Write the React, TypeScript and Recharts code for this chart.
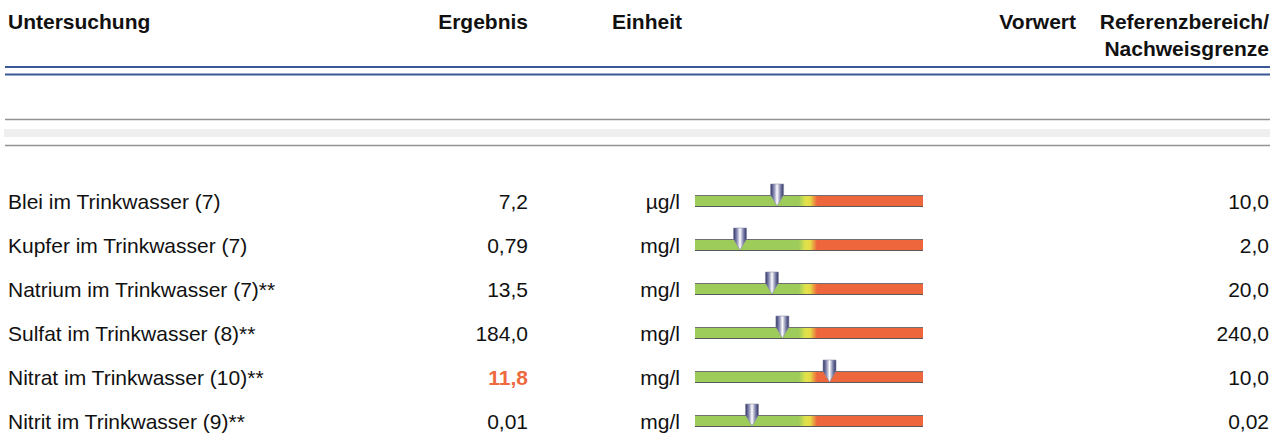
import { Bar, ComposedChart, Customized, Scatter, XAxis, YAxis } from "recharts";

const tests = [
  "Blei im Trinkwasser (7)",
  "Kupfer im Trinkwasser (7)",
  "Natrium im Trinkwasser (7)**",
  "Sulfat im Trinkwasser (8)**",
  "Nitrat im Trinkwasser (10)**",
  "Nitrit im Trinkwasser (9)**",
];
const results = [7.2, 0.79, 13.5, 184.0, 11.8, 0.01];
const resultLabels = ["7,2", "0,79", "13,5", "184,0", "11,8", "0,01"];
const units = ["µg/l", "mg/l", "mg/l", "mg/l", "mg/l", "mg/l"];
const references = [10.0, 2.0, 20.0, 240.0, 10.0, 0.02];
const referenceLabels = ["10,0", "2,0", "20,0", "240,0", "10,0", "0,02"];
const gaugeMax = 2;

const rows = tests.map((name, i) => ({
  name,
  ratio: results[i] / references[i],
  max: gaugeMax,
}));

const FONT = '"Liberation Sans", Arial, sans-serif';
const FS = 21;
const FS_HEAD = 21;
const ALERT = "#ee6a3e";

function RowTick(props: any) {
  const { y, payload } = props;
  const i = tests.indexOf(payload.value);
  const high = results[i] > references[i];
  const base = y + 7.5;
  return (
    <g fontFamily={FONT} fontSize={FS} fill="#111">
      <text x={8} y={base}>{tests[i]}</text>
      <text
        x={528}
        y={base}
        textAnchor="end"
        fill={high ? ALERT : "#111"}
        fontWeight={high ? "bold" : "normal"}
      >
        {resultLabels[i]}
      </text>
      <text x={680} y={base} textAnchor="end">{units[i]}</text>
      <text x={1269} y={base} textAnchor="end">{referenceLabels[i]}</text>
    </g>
  );
}

function Gauge(props: any) {
  const { x, y, width, height } = props;
  return (
    <g>
      <rect x={x} y={y} width={width} height={height} fill="url(#gauge)" />
      <line x1={x} x2={x + width} y1={y + 0.5} y2={y + 0.5} stroke="#6f6f6f" strokeWidth={1} />
      <line x1={x} x2={x + width} y1={y + height - 0.5} y2={y + height - 0.5} stroke="#5a5a5a" strokeWidth={1.2} />
    </g>
  );
}

function Pin(props: any) {
  const { cx, cy } = props;
  const w = 6.5;
  return (
    <path
      d={`M${cx - w},${cy - 17} L${cx + w},${cy - 17} L${cx + w},${cy - 6} L${cx},${cy + 5} L${cx - w},${cy - 6} Z`}
      fill="url(#pin)"
      stroke="#8c8ea8"
      strokeWidth={0.6}
    />
  );
}

function Header() {
  return (
    <g fontFamily={FONT} fontSize={FS_HEAD} fontWeight="bold" fill="#111">
      <text x={8} y={29}>Untersuchung</text>
      <text x={528} y={29} textAnchor="end">Ergebnis</text>
      <text x={612} y={29}>Einheit</text>
      <text x={1076} y={29} textAnchor="end">Vorwert</text>
      <text x={1269} y={29} textAnchor="end">Referenzbereich/</text>
      <text x={1269} y={56} textAnchor="end">Nachweisgrenze</text>
      <line x1={5} x2={1270} y1={67} y2={67} stroke="#3a5896" strokeWidth={2} />
      <line x1={5} x2={1270} y1={74.5} y2={74.5} stroke="#3a5896" strokeWidth={2} />
      <line x1={5} x2={1270} y1={119.5} y2={119.5} stroke="#929292" strokeWidth={1.4} />
      <rect x={4} y={129} width={1266} height={8} fill="#efefef" />
      <line x1={5} x2={1270} y1={145.5} y2={145.5} stroke="#929292" strokeWidth={1.4} />
    </g>
  );
}

export default function App() {
  return (
    <div style={{ position: "absolute", left: 0, top: 0, background: "#fff" }}>
      <ComposedChart
        width={1279}
        height={445}
        data={rows}
        layout="vertical"
        margin={{ top: 179, right: 356, bottom: 2, left: 0 }}
      >
        <defs>
          <linearGradient id="gauge" x1="0" x2="1" y1="0" y2="0">
            <stop offset="0" stopColor="#9dcc5a" />
            <stop offset="0.455" stopColor="#9dcc5a" />
            <stop offset="0.485" stopColor="#e1e24a" />
            <stop offset="0.505" stopColor="#e4dc46" />
            <stop offset="0.535" stopColor="#ee673c" />
            <stop offset="1" stopColor="#ee673c" />
          </linearGradient>
          <linearGradient id="pin" x1="0" x2="1" y1="0" y2="0">
            <stop offset="0" stopColor="#2c3064" />
            <stop offset="0.3" stopColor="#9a9cc0" />
            <stop offset="0.5" stopColor="#ffffff" />
            <stop offset="0.75" stopColor="#8487ad" />
            <stop offset="1" stopColor="#2c3064" />
          </linearGradient>
        </defs>
        <Customized component={Header} />
        <XAxis type="number" domain={[0, gaugeMax]} hide allowDataOverflow />
        <YAxis
          type="category"
          dataKey="name"
          width={695}
          axisLine={false}
          tickLine={false}
          tick={<RowTick />}
          interval={0}
        />
        <Bar dataKey="max" barSize={12} shape={<Gauge />} isAnimationActive={false} />
        <Scatter dataKey="ratio" shape={<Pin />} isAnimationActive={false} />
      </ComposedChart>
    </div>
  );
}
